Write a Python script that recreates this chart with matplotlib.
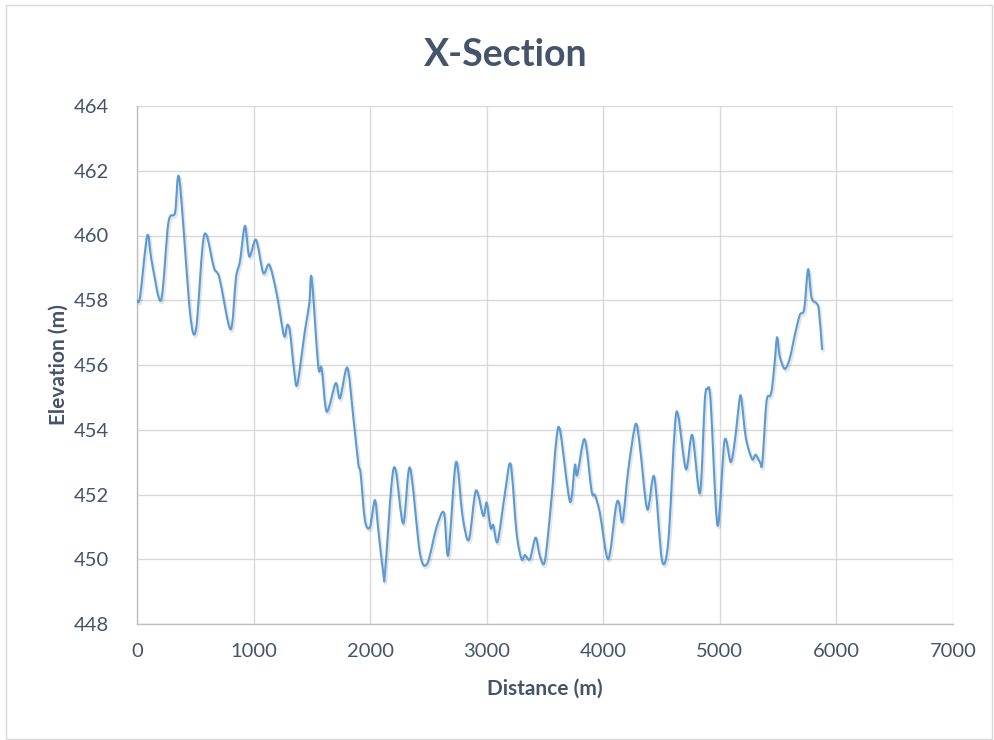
import numpy as np
import matplotlib
matplotlib.use("Agg")
import matplotlib.pyplot as plt
from matplotlib.path import Path
from matplotlib.patches import PathPatch, Rectangle
import matplotlib.patheffects as pe

plt.rcParams['font.family'] = ['Lato', 'DejaVu Sans']

distance = [0, 26, 88, 126, 206, 269, 326, 363, 455, 506, 563, 598, 660, 706, 803, 849, 883,
            926, 963, 1021, 1083, 1135, 1198, 1261, 1289, 1312, 1347, 1375, 1441, 1478, 1498,
            1555, 1584, 1627, 1704, 1741, 1804, 1855, 1898, 1918, 1955, 1998, 2041, 2070, 2113,
            2127, 2184, 2219, 2284, 2341, 2427, 2490, 2570, 2633, 2670, 2736, 2793, 2847, 2907,
            2970, 2999, 3033, 3056, 3093, 3156, 3205, 3256, 3299, 3328, 3370, 3419, 3456, 3499,
            3557, 3594, 3628, 3714, 3756, 3776, 3840, 3900, 3928, 3971, 4042, 4108, 4134, 4165,
            4214, 4277, 4314, 4377, 4437, 4503, 4557, 4614, 4643, 4709, 4763, 4829, 4871, 4894,
            4920, 4980, 5040, 5093, 5129, 5169, 5186, 5223, 5277, 5307, 5346, 5364, 5400, 5432,
            5449, 5472, 5491, 5514, 5557, 5600, 5643, 5686, 5723, 5757, 5786, 5829, 5849, 5877]
elevation = [458.0, 458.1, 460.0, 459.2, 458.0, 460.4, 460.7, 461.75, 457.6, 457.1, 459.7, 460.0,
             459.0, 458.7, 457.1, 458.7, 459.2, 460.3, 459.35, 459.87, 458.84, 459.1, 458.2,
             456.9, 457.24, 457.03, 455.85, 455.4, 457.08, 457.9, 458.7, 455.95, 455.9, 454.56,
             455.44, 454.97, 455.92, 454.4, 452.96, 452.65, 451.2, 450.99, 451.83, 450.9, 449.55,
             449.55, 452.35, 452.76, 451.1, 452.83, 450.18, 449.87, 451.0, 451.44, 450.13, 453.0,
             451.31, 450.6, 452.12, 451.34, 451.75, 450.96, 451.06, 450.54, 452.04, 452.94,
             450.8, 450.0, 450.13, 450.0, 450.67, 450.1, 449.95, 451.93, 453.58, 454.0, 451.78,
             452.91, 452.6, 453.71, 452.09, 451.98, 451.42, 450.0, 451.62, 451.75, 451.16,
             452.76, 454.17, 453.48, 451.54, 452.55, 449.97, 450.54, 454.1, 454.43, 452.78,
             453.84, 452.04, 454.92, 455.25, 454.92, 451.04, 453.67, 453.0, 453.68, 454.94,
             454.92, 453.74, 453.09, 453.23, 452.98, 452.98, 454.87, 455.05, 455.33, 456.16,
             456.86, 456.26, 455.88, 456.21, 456.93, 457.55, 457.72, 458.96, 458.08, 457.91,
             457.7, 456.49]

x_ticks = [0, 1000, 2000, 3000, 4000, 5000, 6000, 7000]
y_ticks = [448, 450, 452, 454, 456, 458, 460, 462, 464]

title = "X-Section"
xlabel = "Distance (m)"
ylabel = "Elevation (m)"

text_color = '#44546A'
grid_color = '#D9D9D9'
line_color = '#5B9BD5'

fig = plt.figure(figsize=(9.94, 7.4), dpi=100)
fig.patches.append(Rectangle((6 / 994, 1 / 740), 986 / 994, 734 / 740, transform=fig.transFigure,
                             fill=False, edgecolor='#D9D9D9', linewidth=1.0))
ax = fig.add_axes([137 / 994, 1 - 624 / 740, (953 - 137) / 994, (624 - 106) / 740])

# Smoothed line (Catmull-Rom -> cubic Bezier, as Excel's smoothed line)
pts = np.column_stack([distance, elevation]).astype(float)
n = len(pts)
verts = [pts[0]]
codes = [Path.MOVETO]
t = 0.15
for i in range(n - 1):
    p0 = pts[i - 1] if i > 0 else pts[i]
    p1 = pts[i]
    p2 = pts[i + 1]
    p3 = pts[i + 2] if i + 2 < n else pts[i + 1]
    c1 = p1 + (p2 - p0) * t
    c2 = p2 - (p3 - p1) * t
    verts += [c1, c2, p2]
    codes += [Path.CURVE4] * 3
path = Path(verts, codes)
patch = PathPatch(path, fill=False, edgecolor=line_color, linewidth=1.5, zorder=3,
                  capstyle='round', joinstyle='round',
                  path_effects=[pe.SimpleLineShadow(offset=(1, -1.5), shadow_color='#000000', alpha=0.1, linewidth=2.2),
                                pe.Normal()])
ax.add_patch(patch)

ax.set_xlim(0, 7000)
ax.set_ylim(448, 464)
ax.set_xticks(x_ticks)
ax.set_yticks(y_ticks)
ax.grid(True, color=grid_color, linewidth=1.0)
ax.set_axisbelow(True)
for s in ['top', 'right']:
    ax.spines[s].set_visible(False)
for s in ['left', 'bottom']:
    ax.spines[s].set_color('#BFBFBF')
    ax.spines[s].set_linewidth(1.0)
ax.tick_params(axis='both', length=0, labelsize=14.5, colors=text_color)
ax.tick_params(axis='x', pad=14)
ax.tick_params(axis='y', pad=20)

fig.text(506 / 994, 1 - 55 / 740, title, fontsize=27, fontweight='bold', color=text_color,
         ha='center', va='center')
ax.set_xlabel(xlabel, fontsize=15, fontweight='bold', color=text_color, labelpad=13)
ax.set_ylabel(ylabel, fontsize=15, fontweight='bold', color=text_color, labelpad=4)

fig.savefig('out.png', dpi=100)
